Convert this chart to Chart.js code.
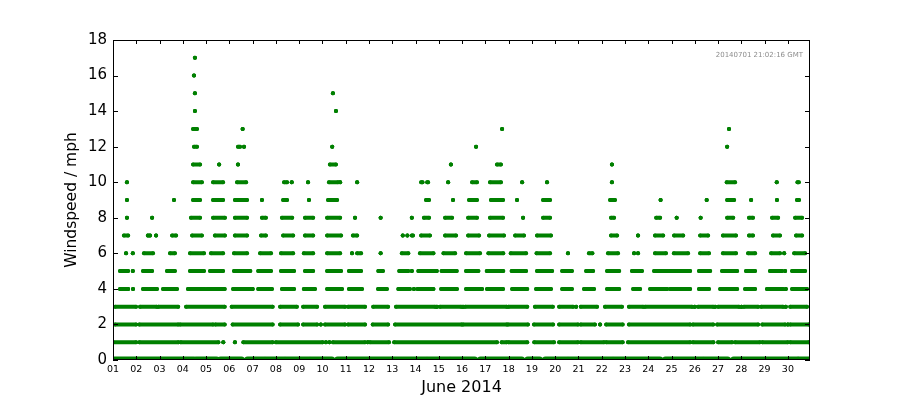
<!DOCTYPE html>
<html>
<head>
<meta charset="utf-8">
<title>Windspeed June 2014</title>
<script src="https://cdn.jsdelivr.net/npm/chart.js@4.4.1/dist/chart.umd.min.js"></script>
<style>
  html, body { margin:0; padding:0; background:#fff; }
  #wind { display:block; }
</style>
</head>
<body>
<canvas id="wind" width="900" height="400"></canvas>
<script>
/* global Chart */
// x = days since 2014-06-01 00:00 GMT, y = windspeed in whole mph.
// Each list holds [from, to] runs where readings sit at that speed.
const dayLabels = ['01','02','03','04','05','06','07','08','09','10','11','12','13','14','15',
                   '16','17','18','19','20','21','22','23','24','25','26','27','28','29','30'];
const speedTicks = [0, 2, 4, 6, 8, 10, 12, 14, 16, 18];
const stamp = '20140701 21:02:16 GMT';

const mph0 = [[0,3.48],[3.56,4.45],[4.62,5.52],[5.78,6.5],[6.56,7.36],[7.42,8.44],[8.5,9.4],[9.65,13.46],
  [13.52,14.45],[14.51,15.54],[15.79,17.56],[17.82,18.33],[18.58,19.52],[19.58,21.46],[21.52,23.5],
  [23.74,25.33],[25.39,26.41],[26.67,29.42],[29.46,29.95]];
const mph1 = [[0,0.99],[1.13,2.81],[2.91,4.53],[4.74,4.74],[5.24,5.24],[5.6,6.86],[7.0,9.01],[9.15,9.15],
  [9.3,9.3],[9.45,10.83],[10.95,10.95],[11.04,11.86],[12.08,16.5],[16.7,16.92],[17.0,17.8],[18.1,18.95],
  [19.17,19.98],[20.1,21.1],[21.19,21.9],[22.13,24.8],[24.92,25.8],[26.0,26.6],[26.73,27.8],[27.9,29.0],[29.1,29.9]];
const mph2 = [[0.09,0.99],[1.13,2.8],[2.88,4.3],[4.4,4.8],[5.14,6.86],[7.18,7.95],[8.17,8.77],[8.93,8.93],
  [9.11,9.97],[10.1,10.83],[11.16,11.82],[12.12,14.98],[15.04,16.92],[16.97,17.83],[18.09,18.91],[19.17,19.98],
  [20.1,20.71],[20.93,20.93],[21.19,21.9],[22.17,24.8],[24.92,25.79],[25.96,27.72],[27.9,28.88],[29.0,29.0],[29.1,29.9]];
const mph3 = [[0.09,0.99],[1.16,1.88],[1.95,2.8],[3.14,4.8],[5.1,6.86],[7.18,7.9],[8.17,8.77],[9.11,9.97],
  [10.1,10.83],[11.18,11.82],[12.16,13.84],[13.92,13.92],[14.05,14.96],[15.04,15.04],[15.13,16.92],[17.0,17.8],
  [18.13,18.9],[19.17,19.77],[19.9,19.9],[20.1,20.8],[21.14,21.87],[22.17,22.78],[22.86,24.88],[25.0,25.0],
  [25.14,25.79],[25.87,25.87],[26.0,26.9],[27.0,27.0],[27.11,27.72],[27.85,28.79],[28.91,28.91],[29.1,29.82]];
const mph4 = [[0.3,0.6],[0.65,0.65],[0.86,0.86],[1.29,1.47],[1.55,1.89],[2.15,2.75],[3.22,3.95],[4.04,4.8],
  [5.16,5.9],[6.0,6.0],[6.24,6.83],[7.26,7.78],[8.2,8.68],[9.2,9.84],[10.14,10.7],[11.39,11.77],[12.26,12.76],
  [12.93,12.93],[13.08,13.77],[14.1,14.78],[15.17,15.86],[16.07,16.76],[17.15,17.8],[18.18,18.82],[19.3,19.72],
  [20.24,20.67],[21.23,21.75],[22.35,22.65],[23.08,23.81],[23.94,24.8],[25.18,25.61],[26.09,26.82],[27.16,27.59],
  [28.1,28.79],[28.91,28.91],[29.18,29.82]];
const mph5 = [[0.3,0.65],[0.85,0.85],[1.29,1.45],[1.52,1.68],[2.32,2.66],[3.31,3.91],[4.17,4.73],[5.2,5.9],
  [6.24,6.79],[7.22,7.78],[8.25,8.6],[9.2,9.8],[10.14,10.66],[11.4,11.6],[12.3,12.69],[12.84,12.84],[13.12,13.84],
  [13.91,13.91],[14.12,14.77],[15.17,15.7],[16.06,16.77],[17.13,17.75],[18.22,18.87],[19.3,19.72],[20.33,20.63],
  [21.23,21.75],[22.3,22.73],[23.25,23.81],[23.89,24.8],[25.18,25.66],[26.17,26.82],[27.2,27.59],[28.23,28.75],
  [28.88,28.88],[29.18,29.74]];
const mph6 = [[0.56,0.56],[0.85,0.85],[1.33,1.72],[2.45,2.66],[3.31,3.91],[4.21,4.73],[5.2,5.76],[6.32,6.79],
  [7.22,7.74],[8.2,8.6],[9.2,9.76],[10.27,10.27],[10.49,10.66],[11.5,11.5],[12.41,12.69],[13.19,13.77],[14.2,14.7],
  [15.17,15.77],[16.13,16.77],[17.09,17.75],[18.2,18.78],[19.55,19.55],[20.45,20.6],[21.27,21.7],[22.39,22.39],
  [22.56,22.56],[23.29,23.76],[24.1,24.71],[25.23,25.61],[26.21,26.77],[27.29,27.59],[28.28,28.66],[28.84,28.84],
  [29.27,29.74]];
const mph7 = [[0.47,0.65],[1.5,1.5],[1.59,1.59],[1.85,1.85],[2.54,2.71],[3.4,3.82],[4.38,4.81],[5.24,5.76],
  [6.36,6.57],[7.31,7.74],[8.25,8.6],[9.2,9.8],[10.31,10.49],[12.45,12.45],[12.65,12.65],[12.84,12.89],
  [13.24,13.62],[14.27,14.74],[15.26,15.73],[16.16,16.8],[17.28,17.66],[18.22,18.82],[21.4,21.66],[22.56,22.56],
  [23.29,23.64],[24.11,24.5],[25.23,25.57],[26.21,26.77],[27.33,27.5],[28.36,28.66],[29.35,29.61]];
const mph8 = [[0.6,0.6],[1.68,1.68],[3.35,3.74],[4.3,4.81],[5.24,5.76],[6.4,6.57],[7.26,7.7],[8.25,8.6],
  [9.2,9.76],[10.4,10.4],[11.5,11.5],[12.84,12.84],[13.36,13.58],[14.27,14.57],[15.26,15.64],[16.2,16.76],
  [17.62,17.62],[18.48,18.78],[21.4,21.53],[23.34,23.51],[24.22,24.22],[25.25,25.25],[26.39,26.65],[27.33,27.5],
  [28.32,28.58],[29.31,29.61]];
const mph9 = [[0.6,0.6],[2.62,2.62],[3.44,3.74],[4.3,4.73],[5.24,5.76],[6.4,6.4],[7.31,7.48],[8.42,8.42],
  [9.24,9.63],[13.45,13.58],[14.61,14.61],[15.3,15.64],[16.24,16.76],[17.36,17.36],[18.48,18.78],[21.36,21.57],
  [23.53,23.53],[25.51,25.51],[26.39,26.69],[27.42,27.42],[28.53,28.53],[29.39,29.48]];
const mph10 = [[0.6,0.6],[3.44,3.82],[4.3,4.73],[5.33,5.72],[7.35,7.48],[7.68,7.68],[8.38,8.38],[9.28,9.67],
  [9.76,9.76],[10.49,10.49],[13.24,13.3],[13.5,13.54],[14.4,14.4],[15.43,15.64],[16.2,16.67],[17.58,17.58],
  [18.65,18.65],[21.44,21.44],[26.37,26.73],[28.52,28.52],[29.41,29.47]];
const mph11 = [[3.44,3.74],[4.56,4.56],[5.37,5.37],[9.32,9.58],[14.52,14.52],[16.5,16.67],[21.44,21.44]];
const mph12 = [[3.48,3.61],[5.37,5.46],[5.63,5.63],[9.42,9.42],[15.6,15.6],[26.39,26.39]];
const mph13 = [[3.44,3.61],[5.57,5.57],[16.72,16.72],[26.47,26.47]];
const mph14 = [[3.52,3.52],[9.58,9.58]];
const mph15 = [[3.52,3.52],[9.45,9.45]];
const mph16 = [[3.48,3.48]];
const mph17 = [[3.52,3.52]];

const levels = [mph0, mph1, mph2, mph3, mph4, mph5, mph6, mph7, mph8,
                mph9, mph10, mph11, mph12, mph13, mph14, mph15, mph16, mph17];

const GREEN = '#008000';
const FONT = '"DejaVu Sans", "Liberation Sans", sans-serif';

// one line dataset per speed; a null point breaks the line between runs
function runsToData(runs, speed){
  const out = [];
  runs.forEach(([a, b]) => {
    out.push({ x: a, y: speed }, { x: b, y: speed }, { x: b, y: null });
  });
  return out;
}

// matplotlib-like frame: black box, inward ticks on all four sides, run stamp
const frame = {
  id: 'frame',
  afterDatasetsDraw(chart){
    const { ctx, chartArea: a, scales: { x, y } } = chart;
    ctx.save();
    ctx.strokeStyle = '#000';
    ctx.lineWidth = 1;
    ctx.beginPath();
    x.ticks.forEach(t => {
      const px = Math.round(x.getPixelForValue(t.value)) + 0.5;
      ctx.moveTo(px, a.bottom); ctx.lineTo(px, a.bottom - 4);
      ctx.moveTo(px, a.top);    ctx.lineTo(px, a.top + 4);
    });
    y.ticks.forEach(t => {
      const py = Math.round(y.getPixelForValue(t.value)) + 0.5;
      ctx.moveTo(a.left, py);  ctx.lineTo(a.left + 5, py);
      ctx.moveTo(a.right, py); ctx.lineTo(a.right - 5, py);
    });
    ctx.stroke();
    ctx.strokeRect(Math.round(a.left) + 0.5, Math.round(a.top) + 0.5,
                   Math.round(a.width) - 1, Math.round(a.height) - 1);
    ctx.fillStyle = '#8c8c8c';
    ctx.font = '7px ' + FONT;
    ctx.textAlign = 'right';
    ctx.textBaseline = 'alphabetic';
    ctx.fillText(stamp, a.right - 7, a.top + 17);
    ctx.restore();
  }
};

(function init(){
  const ctx = document.getElementById('wind').getContext('2d');
  new Chart(ctx, {
    type: 'line',
    data: {
      datasets: levels.map((runs, speed) => ({
        label: speed + ' mph',
        data: runsToData(runs, speed),
        borderColor: GREEN,
        backgroundColor: GREEN,
        // calm readings sit on the axis and get half clipped, so draw that row wider
        borderWidth: speed === 0 ? 7 : 4,
        borderCapStyle: 'round',
        borderJoinStyle: 'round',
        pointRadius: speed === 0 ? 0 : 2,
        pointBorderWidth: 0,
        pointBackgroundColor: GREEN,
        spanGaps: false,
        tension: 0,
        clip: 0
      }))
    },
    options: {
      responsive: false,
      devicePixelRatio: 1,
      animation: false,
      events: [],
      layout: { padding: { top: 40, right: 90, left: 0, bottom: 0 } },
      plugins: { legend: { display: false }, tooltip: { enabled: false } },
      scales: {
        x: {
          type: 'linear',
          min: 0,
          max: 29.95,
          grid: { display: false, drawTicks: false },
          border: { display: false },
          afterBuildTicks: s => { s.ticks = dayLabels.map((_, i) => ({ value: i })); },
          afterFit: s => { s.height = 40; },
          ticks: {
            autoSkip: false,
            maxRotation: 0,
            padding: 4,
            color: '#000',
            font: { family: FONT, size: 9.5 },
            callback: v => dayLabels[v] || ''
          },
          title: {
            display: true,
            text: 'June 2014',
            color: '#000',
            font: { family: FONT, size: 16 },
            padding: { top: 0, bottom: 3 }
          }
        },
        y: {
          min: 0,
          max: 18,
          grid: { display: false, drawTicks: false },
          border: { display: false },
          afterBuildTicks: s => { s.ticks = speedTicks.map(v => ({ value: v })); },
          afterFit: s => { s.width = 113; },
          ticks: {
            padding: 6,
            color: '#000',
            font: { family: FONT, size: 15 }
          },
          title: {
            display: true,
            text: 'Windspeed / mph',
            color: '#000',
            font: { family: FONT, size: 15.5 },
            padding: { top: 63, bottom: 0 }
          }
        }
      }
    },
    plugins: [frame]
  });
})();
</script>
</body>
</html>
